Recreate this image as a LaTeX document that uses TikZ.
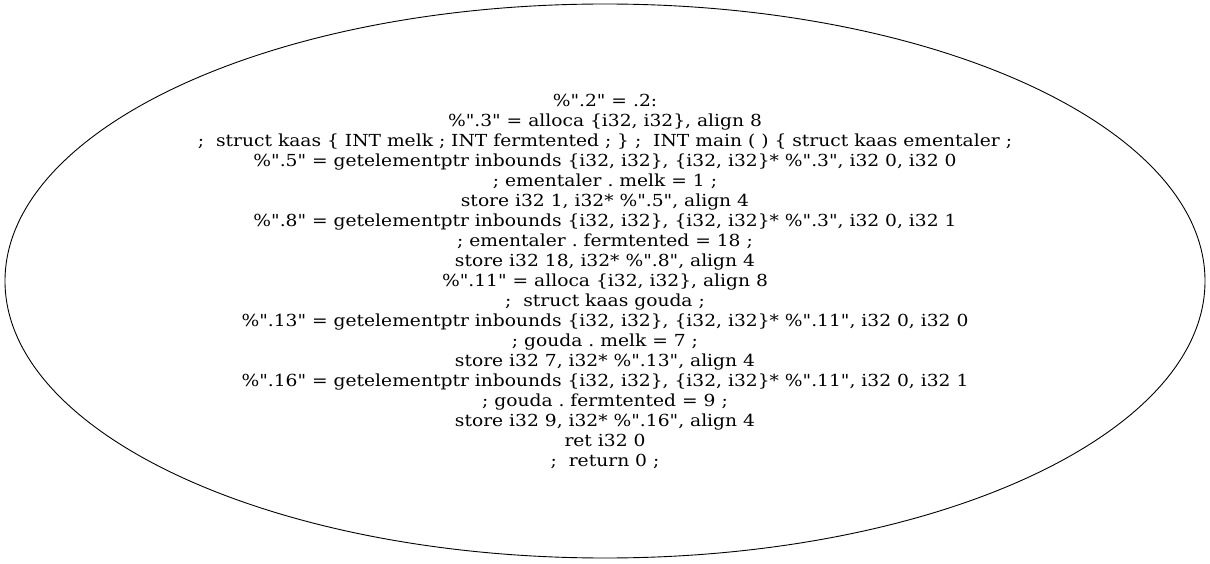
\documentclass[tikz,border=0pt]{standalone}
\usepackage{fontspec}
\setmainfont{DejaVu Serif}[Ligatures=TeXOff, FakeStretch=1.125]
\usepackage{tikz}
\usetikzlibrary{shapes.geometric}
\frenchspacing

\tikzset{blok/.style={ellipse, draw, line width=0.9pt, minimum width=1200pt, minimum height=554pt, inner sep=0pt, align=center, font=\fontsize{16.6}{20}\selectfont}}

\begin{document}
\begin{tikzpicture}[x=1pt,y=1pt]
	\useasboundingbox (0,0) rectangle (1210,563);
	\node[blok] (main) at (605,282) {
		\%".2" = .2:\\
		\%".3" = alloca \{i32, i32\}, align 8\\
		;\ \ struct kaas \{ INT melk ; INT fermtented ; \} ;\ \ INT main ( ) \{ struct kaas ementaler ;\\
		\%".5" = getelementptr inbounds \{i32, i32\}, \{i32, i32\}* \%".3", i32 0, i32 0\\
		; ementaler . melk = 1 ;\\
		store i32 1, i32* \%".5", align 4\\
		\%".8" = getelementptr inbounds \{i32, i32\}, \{i32, i32\}* \%".3", i32 0, i32 1\\
		; ementaler . fermtented = 18 ;\\
		store i32 18, i32* \%".8", align 4\\
		\%".11" = alloca \{i32, i32\}, align 8\\
		;\ \ struct kaas gouda ;\\
		\%".13" = getelementptr inbounds \{i32, i32\}, \{i32, i32\}* \%".11", i32 0, i32 0\\
		; gouda . melk = 7 ;\\
		store i32 7, i32* \%".13", align 4\\
		\%".16" = getelementptr inbounds \{i32, i32\}, \{i32, i32\}* \%".11", i32 0, i32 1\\
		; gouda . fermtented = 9 ;\\
		store i32 9, i32* \%".16", align 4\\
		ret i32 0\\
		;\ \ return 0 ;
	};
\end{tikzpicture}
\end{document}
